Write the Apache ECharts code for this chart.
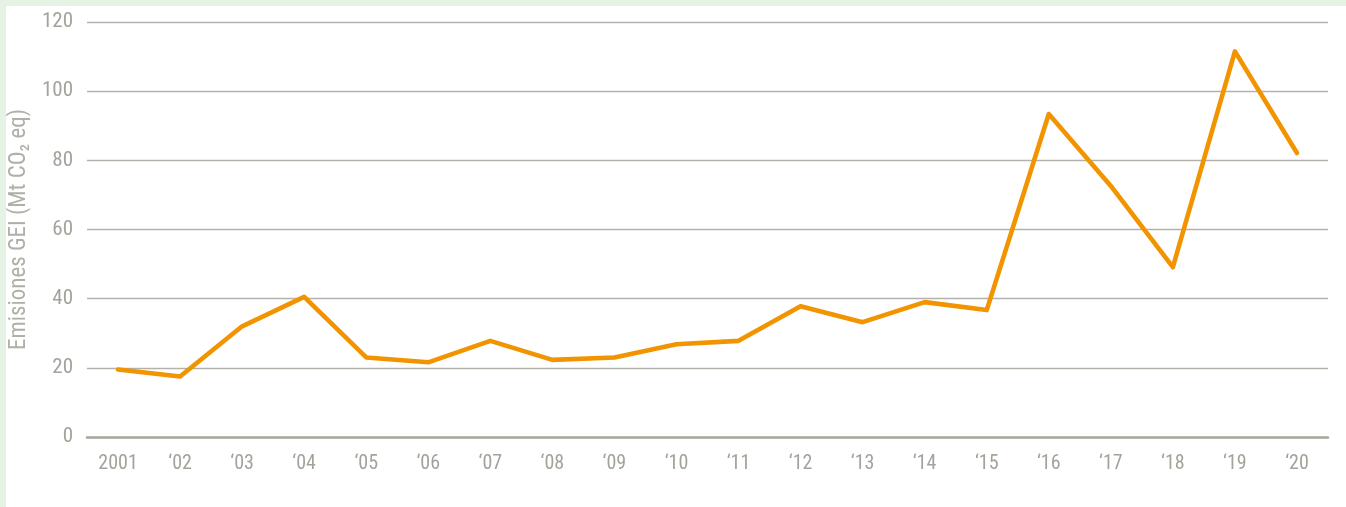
<!DOCTYPE html>
<html><head><meta charset="utf-8">
<script src="https://cdn.jsdelivr.net/npm/echarts@6/dist/echarts.min.js"></script>
<style>
html,body{margin:0;padding:0;background:#e6f2e3;}
#wrap{position:absolute;left:6px;top:6px;width:1340px;height:501px;background:#fff;}
#c{position:absolute;left:0;top:0;width:1346px;height:507px;}
</style></head><body>
<div id="wrap"></div>
<div id="c"></div>
<script>
const categories = ["2001","\u201802","\u201803","\u201804","\u201805","\u201806","\u201807","\u201808","\u201809","\u201810","\u201811","\u201812","\u201813","\u201814","\u201815","\u201816","\u201817","\u201818","\u201819","\u201820"];
const emissions = [19.5,17.5,32,40.5,23,21.6,27.8,22.3,23,26.8,27.8,37.8,33.2,39,36.7,93.4,72.6,49.1,111.5,82.1];
const yTicks = {min:0,max:120,interval:20};
const yName = "Emisiones GEI (Mt CO\u2082 eq)";

const font = "'Liberation Sans Narrow','Roboto Condensed','Liberation Sans',sans-serif";
const chart = echarts.init(document.getElementById('c'));
chart.setOption({
  animation:false,
  grid:{left:86,right:18,top:22,bottom:70},
  xAxis:{type:'category',data:categories,boundaryGap:true,
    axisLine:{lineStyle:{color:'#a9a99f',width:2.5}},
    axisTick:{show:false},
    axisLabel:{color:'#a3a39b',fontSize:20,fontFamily:font,margin:17}},
  yAxis:{type:'value',min:yTicks.min,max:yTicks.max,interval:yTicks.interval,
    name:yName,nameLocation:'middle',nameGap:53,nameRotate:90,
    nameTextStyle:{color:'#b0b0a8',fontSize:23,fontFamily:font},
    axisLine:{show:false},axisTick:{show:false},
    splitLine:{lineStyle:{color:'#b2b2aa',width:1.3}},
    axisLabel:{color:'#a3a39b',fontSize:21,fontFamily:font,margin:14}},
  series:[{type:'line',data:emissions,symbol:'none',
    lineStyle:{color:'#f29400',width:4.6,cap:'round',join:'round'}}]
});
</script>
</body></html>
